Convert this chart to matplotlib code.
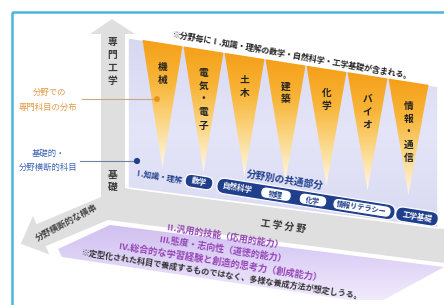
import numpy as np
import matplotlib
matplotlib.use('Agg')
import matplotlib.pyplot as plt
from matplotlib.patches import Polygon, FancyBboxPatch, Circle, Rectangle
from matplotlib.colors import LinearSegmentedColormap
from matplotlib.transforms import Affine2D

plt.rcParams['font.family'] = ['Noto Sans CJK JP', 'DejaVu Sans']

# ---- content ----
fields = ['機械', '電気・電子', '土木', '建築', '化学', 'バイオ', '情報・通信']
axis_vertical = '専門工学'
axis_base = '基礎'
axis_diag = '分野横断的な横串'
axis_horiz = '工 学 分 野'
label_special = ['分野での', '専門科目の分布']
label_basic = ['基礎的・', '分野横断的科目']
common_title = '分野別の共通部分'
knowledge_label = 'Ⅰ.知識・理解'
pill_math = '数学'
pill_natural = '自然科学'
pill_inner = ['物理', '化学', '情報リテラシー']
pill_eng = '工学基礎'
top_note = '※分野毎にⅠ.知識・理解の数学・自然科学・工学基礎が含まれる。'
floor_lines = ['Ⅱ.汎用的技能（応用的能力）',
               'Ⅲ.態度・志向性（道徳的能力）',
               'Ⅳ.総合的な学習経験と創造的思考力（創成能力）']
floor_note = '※定型化された科目で養成するものではなく、多様な養成方法が想定しうる。'

W, H = 444, 305
fig = plt.figure(figsize=(W / 100, H / 100), dpi=100)
ax = fig.add_axes([0, 0, 1, 1])
ax.axis('off')
fig.patch.set_facecolor('white')


def grad_poly(pts, colors, y0, y1, zorder, ec='none', lw=0):
    poly = Polygon(pts, closed=True, facecolor='none', edgecolor=ec, lw=lw, zorder=zorder + 0.1)
    ax.add_patch(poly)
    xs = [p[0] for p in pts]
    cmap = LinearSegmentedColormap.from_list('g', colors)
    grad = np.linspace(0, 1, 256).reshape(-1, 1)
    im = ax.imshow(grad, cmap=cmap, extent=(min(xs) - 1, max(xs) + 1, y1, y0),
                   origin='upper', aspect='auto', zorder=zorder, interpolation='bilinear')
    im.set_clip_path(poly)


# ---- gray axes shape ----
d = np.array([-0.922, 0.388]); d /= np.linalg.norm(d)
n = np.array([0.388, 0.922]); n /= np.linalg.norm(n)
U0 = np.array([101.0, 197.0]); L0 = np.array([108.0, 220.0])
w = float((L0 - U0) @ n)
U1 = U0 + 70 * d
L1 = U1 + w * n
head_u = U1 - 9 * n
head_l = L1 + 9 * n
tip = (U1 + L1) / 2 + 22 * d
gray_pts = [(112, 19), (135, 34), (125, 34), (125, 188), (444, 229), (444, 263),
            tuple(L0), tuple(L1), tuple(head_l), tuple(tip), tuple(head_u), tuple(U1),
            tuple(U0), (101, 34), (90, 34)]
ax.add_patch(Polygon(gray_pts, closed=True, fc='#dfdfdf', ec='none', zorder=1))

# ---- floor ----
floor = [(58, 249), (110, 225), (444, 267), (376, 304), (62, 257)]
grad_poly(floor, ['#d0c0f0', '#e0d4f7', '#f1ebfc'], 225, 300, zorder=1.5)

# ---- back panel ----
def ytop(x):
    return 40 + (x - 143) * 0.157

panel = [(128, ytop(128)), (438, ytop(438)), (438, 228), (128, 188)]
grad_poly(panel, ['#d7d7f1', '#e5e5f9', '#d9d9f2'], ytop(128), 228, zorder=2, ec='white', lw=1.2)

# ---- wedges ----
for i, name in enumerate(fields):
    x0 = 142.5 + 41 * i
    x1 = x0 + 40
    cx = x0 + 20
    ay = 168 + 4.5 * i
    tri = [(x0, ytop(x0)), (x1, ytop(x1)), (cx, ay)]
    grad_poly(tri, ['#f59f18', '#f8b538', '#fbd98c', '#fff7e6'], min(ytop(x0), ytop(x1)), ay, zorder=3)
    y = ytop(cx) + 24
    for ch in name:
        ax.text(cx, y, ch, ha='center', va='center', fontsize=7, fontweight='bold',
                color='#222222', zorder=10)
        y += 13

# ---- top note ----
ax.text(292, 55, top_note, rotation=-10, rotation_mode='anchor', ha='center', va='center',
        fontsize=5.8, fontweight='bold', color='#222222', zorder=10)

# ---- border ----
ax.add_patch(Rectangle((12, 12), 460, 320, fill=False, ec='#4cb5d9', lw=1.8, zorder=20))

# ---- axis texts ----
for k, ch in enumerate(axis_vertical):
    ax.text(112, 42 + 13 * k, ch, ha='center', va='center', fontsize=7, fontweight='bold',
            color='#3a3a3a', zorder=10)
for k, ch in enumerate(axis_base):
    ax.text(113, 175 + 12 * k, ch, ha='center', va='center', fontsize=7, fontweight='bold',
            color='#3a3a3a', zorder=10)
ax.text(67, 223, axis_diag, rotation=28, rotation_mode='anchor', ha='center', va='center',
        fontsize=6.2, fontweight='bold', color='#444444', zorder=10)
ax.text(283, 226, axis_horiz, rotation=-8, rotation_mode='anchor', ha='center', va='center',
        fontsize=7, fontweight='bold', color='#333333', zorder=10)

# ---- left labels ----
ax.text(50, 92, label_special[0], ha='center', va='center', fontsize=6, color='#e39a45', zorder=10)
ax.text(48, 107, label_special[1], ha='center', va='center', fontsize=6, color='#e39a45', zorder=10)
ax.plot([82, 157], [99, 99], color='#c8a97e', lw=0.8, zorder=9)
ax.add_patch(Circle((157, 99), 2.2, color='#e8901c', zorder=9))
ax.text(48, 153, label_basic[0], ha='center', va='center', fontsize=6, color='#3d66b5', zorder=10)
ax.text(48, 167, label_basic[1], ha='center', va='center', fontsize=6, color='#3d66b5', zorder=10)
ax.plot([80, 137], [161, 161], color='#7080a0', lw=0.8, zorder=9)
ax.add_patch(Circle((137, 161), 2.4, color='#1f3f8c', zorder=9))

# ---- pills ----
ang = 9
slope = np.tan(np.radians(ang))


def py(x):
    return 182 + (x - 199) * slope


def pill(cx, wd, ht, fc, ec, text, tc, fs, z=6):
    cy = py(cx)
    p = FancyBboxPatch((cx - wd / 2, cy - ht / 2), wd, ht,
                       boxstyle=f"round,pad=0,rounding_size={ht / 2}",
                       fc=fc, ec=ec, lw=0.9, zorder=z)
    p.set_transform(Affine2D().rotate_deg_around(cx, cy, ang) + ax.transData)
    ax.add_patch(p)
    if text:
        ax.text(cx, cy, text, rotation=-ang, rotation_mode='anchor', ha='center', va='center',
                fontsize=fs, fontweight='bold', color=tc, zorder=z + 1)


navy = '#1f3f8c'
ax.text(158, 177, knowledge_label, rotation=-ang, rotation_mode='anchor', ha='center',
        va='center', fontsize=5.6, fontweight='bold', color=navy, zorder=10)
ax.text(285, 180, common_title, rotation=-ang, rotation_mode='anchor', ha='center',
        va='center', fontsize=7, fontweight='bold', color=navy, zorder=10)
pill(199, 28, 13, navy, 'white', pill_math, 'white', 5.6)
pill(306, (395 - 217) / np.cos(np.radians(ang)), 15.5, navy, 'white', None, 'white', 5.5)
ax.text(238, py(238), pill_natural, rotation=-ang, rotation_mode='anchor', ha='center',
        va='center', fontsize=5.5, fontweight='bold', color='white', zorder=8)
for cx, wd, txt in zip([276, 313, 362], [31, 28, 59], pill_inner):
    pill(cx, wd, 11.5, 'white', navy, txt, navy, 5.2, z=8)
pill(417, 43, 14.5, navy, 'white', pill_eng, 'white', 5.5)

# ---- floor texts ----
floor_pos = [(224, 237), (222, 249.5), (221, 262.5)]
floor_fs = [6.5, 6.5, 6.7]
for (x, y), txt, fs in zip(floor_pos, floor_lines, floor_fs):
    ax.text(x, y, txt, rotation=-ang, rotation_mode='anchor', ha='center', va='center',
            fontsize=fs, fontweight='bold', color='#9444b4', zorder=10)
ax.text(222, 275, floor_note, rotation=-ang, rotation_mode='anchor', ha='center', va='center',
        fontsize=5.9, fontweight='bold', color='#333333', zorder=10)

ax.set_xlim(0, W)
ax.set_ylim(H, 0)
fig.savefig('out.png', dpi=100, facecolor='white')
